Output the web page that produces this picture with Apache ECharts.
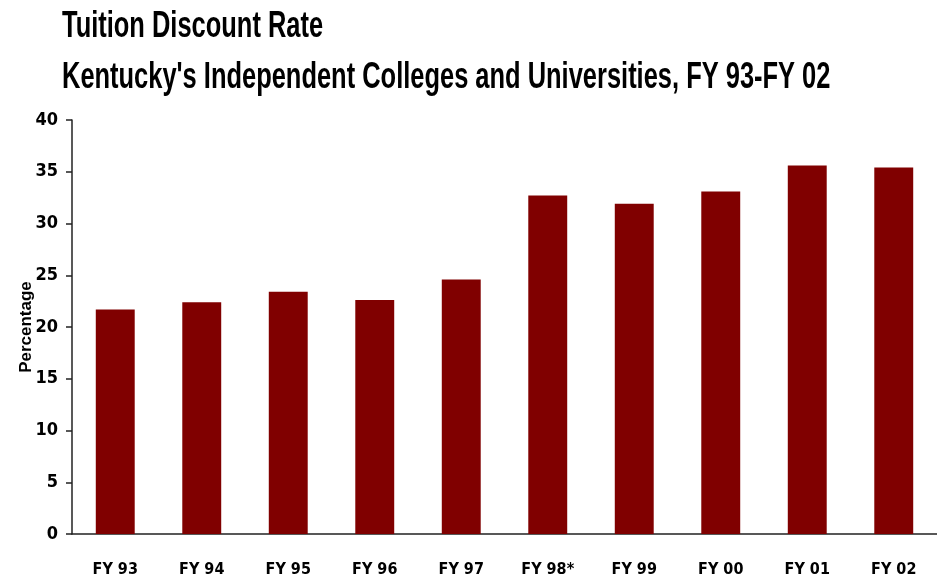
<!DOCTYPE html>
<html>
<head>
<meta charset="utf-8">
<title>Tuition Discount Rate</title>
<script src="https://cdn.jsdelivr.net/npm/echarts@6/dist/echarts.min.js"></script>
<style>
  html, body { margin: 0; padding: 0; background: #fff; }
  #chart { width: 937px; height: 584px; }
</style>
</head>
<body>
<div id="chart"></div>
<script>
  // data
  var categories = ['FY 93', 'FY 94', 'FY 95', 'FY 96', 'FY 97', 'FY 98*', 'FY 99', 'FY 00', 'FY 01', 'FY 02']
  var discountRate = [21.7, 22.4, 23.4, 22.6, 24.6, 32.7, 31.9, 33.1, 35.6, 35.4]
  var yTicks = [0, 5, 10, 15, 20, 25, 30, 35, 40]
  var titleLines = ['Tuition Discount Rate', "Kentucky's Independent Colleges and Universities, FY 93-FY 02"]

  var narrow = "'DejaVu Sans Condensed', 'Arial Narrow', sans-serif"

  var chart = echarts.init(document.getElementById('chart'))
  var option = {
    animation: false,
    // the title face is a tall narrow bold, so squeeze a bold sans sideways
    graphic: titleLines.map(function (line, i) {
      return {
        type: 'text',
        x: 62,
        y: 27 + i * 51,
        scaleX: 0.707,
        style: {
          text: line,
          font: "bold 36px 'Liberation Sans', Arial, sans-serif",
          fill: '#000',
          verticalAlign: 'middle'
        }
      }
    }),
    grid: {
      left: 72,
      right: 0,
      top: 120,
      bottom: 50
    },
    xAxis: {
      type: 'category',
      data: categories,
      axisLine: { lineStyle: { color: '#222', width: 1.5 } },
      axisTick: { length: 9, lineStyle: { color: '#222', width: 1.5 } },
      axisLabel: {
        margin: 28,
        fontFamily: narrow,
        fontWeight: 'bold',
        fontSize: 16,
        color: '#000'
      }
    },
    yAxis: {
      type: 'value',
      min: yTicks[0],
      max: yTicks[yTicks.length - 1],
      interval: 5,
      name: 'Percentage',
      nameLocation: 'middle',
      nameGap: 37,
      nameMoveOverlap: false,
      nameTextStyle: {
        fontFamily: "'Liberation Sans', Arial, sans-serif",
        fontWeight: 'bold',
        fontSize: 17,
        color: '#000'
      },
      axisLine: { show: true, lineStyle: { color: '#222', width: 1.5 } },
      axisTick: { show: true, length: 6, lineStyle: { color: '#222', width: 1.5 } },
      splitLine: { show: false },
      axisLabel: {
        margin: 14,
        fontFamily: narrow,
        fontWeight: 'bold',
        fontSize: 18,
        color: '#000'
      }
    },
    series: [
      {
        name: 'Discount rate',
        type: 'bar',
        data: discountRate,
        barWidth: '45%',
        itemStyle: { color: '#800000' }
      }
    ]
  }
  chart.setOption(option)
</script>
</body>
</html>
